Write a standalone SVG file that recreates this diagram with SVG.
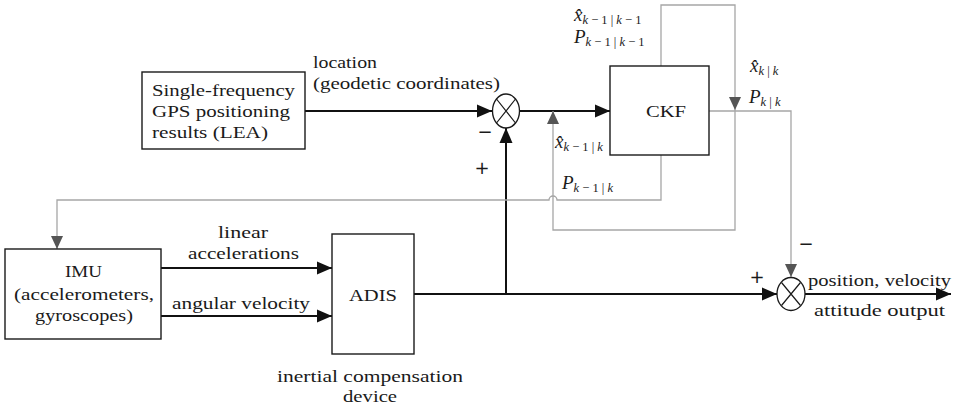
<svg xmlns="http://www.w3.org/2000/svg" width="958" height="408" viewBox="0 0 958 408">
<style>
.box{fill:#fff;stroke:#1a1a1a;stroke-width:1.4}
.sum{fill:#fff;stroke:#1a1a1a;stroke-width:1.3}
text{fill:#1a1a1a}
.t{font-size:17px}
.pm{font-family:"DejaVu Sans","Liberation Sans",sans-serif;font-size:18px;fill:#1a1a1a}
.m{font-size:19px}
.i{font-style:italic}
.s{font-size:12.5px}
.blk{fill:none;stroke:#111;stroke-width:2}
.gry{fill:none;stroke:#a6a6a6;stroke-width:1.3}
</style>
<defs>
<marker id="ab" markerUnits="userSpaceOnUse" markerWidth="16" markerHeight="14" refX="15" refY="7" orient="auto">
<path d="M0,0.5 L15,7 L0,13.5 z" fill="#111"/>
</marker>
<marker id="ag" markerUnits="userSpaceOnUse" markerWidth="14" markerHeight="12" refX="13" refY="6" orient="auto">
<path d="M0,0 L13,6 L0,12 z" fill="#555"/>
</marker>
</defs>

<g id="connectors">
<path class="blk" d="M305,111 H492" marker-end="url(#ab)"/>
<path class="blk" d="M519.5,111 H610" marker-end="url(#ab)"/>
<path class="blk" d="M161,268 H332" marker-end="url(#ab)"/>
<path class="blk" d="M161,316 H332" marker-end="url(#ab)"/>
<path class="blk" d="M414,294 H777" marker-end="url(#ab)"/>
<path class="blk" d="M506,294 V128" marker-end="url(#ab)"/>
<path class="blk" d="M805,294 H951" marker-end="url(#ab)"/>
<path class="gry" d="M661,66 V5 H735 V110" marker-end="url(#ag)"/>
<path class="gry" d="M735,110 V230 H553 V111" marker-end="url(#ag)"/>
<path class="gry" d="M709,111 H791 V277" marker-end="url(#ag)"/>
<path class="gry" d="M661,155 V200 H557 A4,4 0 0 0 549,200 H57 V249" marker-end="url(#ag)"/>
</g>

<g font-family="'Liberation Serif', 'DejaVu Serif', 'Times New Roman', serif">
<g id="gps">
<rect class="box" x="142" y="72" width="163" height="77"/>
<text class="t" x="152" y="96" textLength="143" lengthAdjust="spacingAndGlyphs">Single-frequency</text>
<text class="t" x="152" y="117" textLength="138" lengthAdjust="spacingAndGlyphs">GPS positioning</text>
<text class="t" x="152" y="138" textLength="116" lengthAdjust="spacingAndGlyphs">results (LEA)</text>
</g>

<g id="sum1">
<ellipse class="sum" cx="506" cy="111" rx="13.5" ry="17"/>
<path d="M496.5,99 L515.5,123 M515.5,99 L496.5,123" stroke="#1a1a1a" stroke-width="1.2"/>
<text class="pm" x="485" y="138" text-anchor="middle">−</text>
<text class="pm" x="482" y="174" text-anchor="middle">+</text>
</g>

<g id="ckf">
<rect class="box" x="610" y="66" width="99" height="89"/>
<text class="t" x="646" y="117" textLength="40" lengthAdjust="spacingAndGlyphs">CKF</text>
</g>

<g id="imu">
<rect class="box" x="5" y="249" width="156" height="90"/>
<text class="t" x="65" y="277" textLength="37" lengthAdjust="spacingAndGlyphs">IMU</text>
<text class="t" x="14" y="300" textLength="140" lengthAdjust="spacingAndGlyphs">(accelerometers,</text>
<text class="t" x="35" y="321" textLength="98" lengthAdjust="spacingAndGlyphs">gyroscopes)</text>
</g>

<g id="adis">
<rect class="box" x="332" y="234" width="82" height="120"/>
<text class="t" x="349" y="301" textLength="48" lengthAdjust="spacingAndGlyphs">ADIS</text>
</g>

<g id="sum2">
<ellipse class="sum" cx="791" cy="294" rx="14" ry="16.5"/>
<path d="M781.5,282.5 L800.5,305.5 M800.5,282.5 L781.5,305.5" stroke="#1a1a1a" stroke-width="1.2"/>
<text class="pm" x="806" y="250" text-anchor="middle">−</text>
<text class="pm" x="757" y="283" text-anchor="middle">+</text>
</g>

<g id="labels">
<text class="t" x="313" y="68" textLength="64" lengthAdjust="spacingAndGlyphs">location</text>
<text class="t" x="313" y="89" textLength="187" lengthAdjust="spacingAndGlyphs">(geodetic coordinates)</text>
<text class="t" x="218" y="238" textLength="50" lengthAdjust="spacingAndGlyphs">linear</text>
<text class="t" x="188" y="259" textLength="111" lengthAdjust="spacingAndGlyphs">accelerations</text>
<text class="t" x="172" y="309" textLength="138" lengthAdjust="spacingAndGlyphs">angular velocity</text>
<text class="t" x="277" y="382" textLength="186" lengthAdjust="spacingAndGlyphs">inertial compensation</text>
<text class="t" x="343" y="402" textLength="54" lengthAdjust="spacingAndGlyphs">device</text>
<text class="t" x="808" y="286" textLength="143" lengthAdjust="spacingAndGlyphs">position, velocity</text>
<text class="t" x="814" y="316" textLength="131" lengthAdjust="spacingAndGlyphs">attitude output</text>

<text class="m" x="574" y="21"><tspan class="i">x̂</tspan><tspan class="s" dy="3"><tspan class="i">k</tspan> − 1 | <tspan class="i">k</tspan> − 1</tspan></text>
<text class="m" x="574" y="43"><tspan class="i">P</tspan><tspan class="s" dy="3"><tspan class="i">k</tspan> − 1 | <tspan class="i">k</tspan> − 1</tspan></text>

<text class="m" x="750" y="72"><tspan class="i">x̂</tspan><tspan class="s" dy="3"><tspan class="i">k</tspan> | <tspan class="i">k</tspan></tspan></text>
<text class="m" x="749" y="103"><tspan class="i">P</tspan><tspan class="s" dy="3"><tspan class="i">k</tspan> | <tspan class="i">k</tspan></tspan></text>

<text class="m" x="555" y="148"><tspan class="i">x̂</tspan><tspan class="s" dy="3"><tspan class="i">k</tspan> − 1 | <tspan class="i">k</tspan></tspan></text>
<text class="m" x="562" y="189"><tspan class="i">P</tspan><tspan class="s" dy="3"><tspan class="i">k</tspan> − 1 | <tspan class="i">k</tspan></tspan></text>
</g>
</g>
</svg>
